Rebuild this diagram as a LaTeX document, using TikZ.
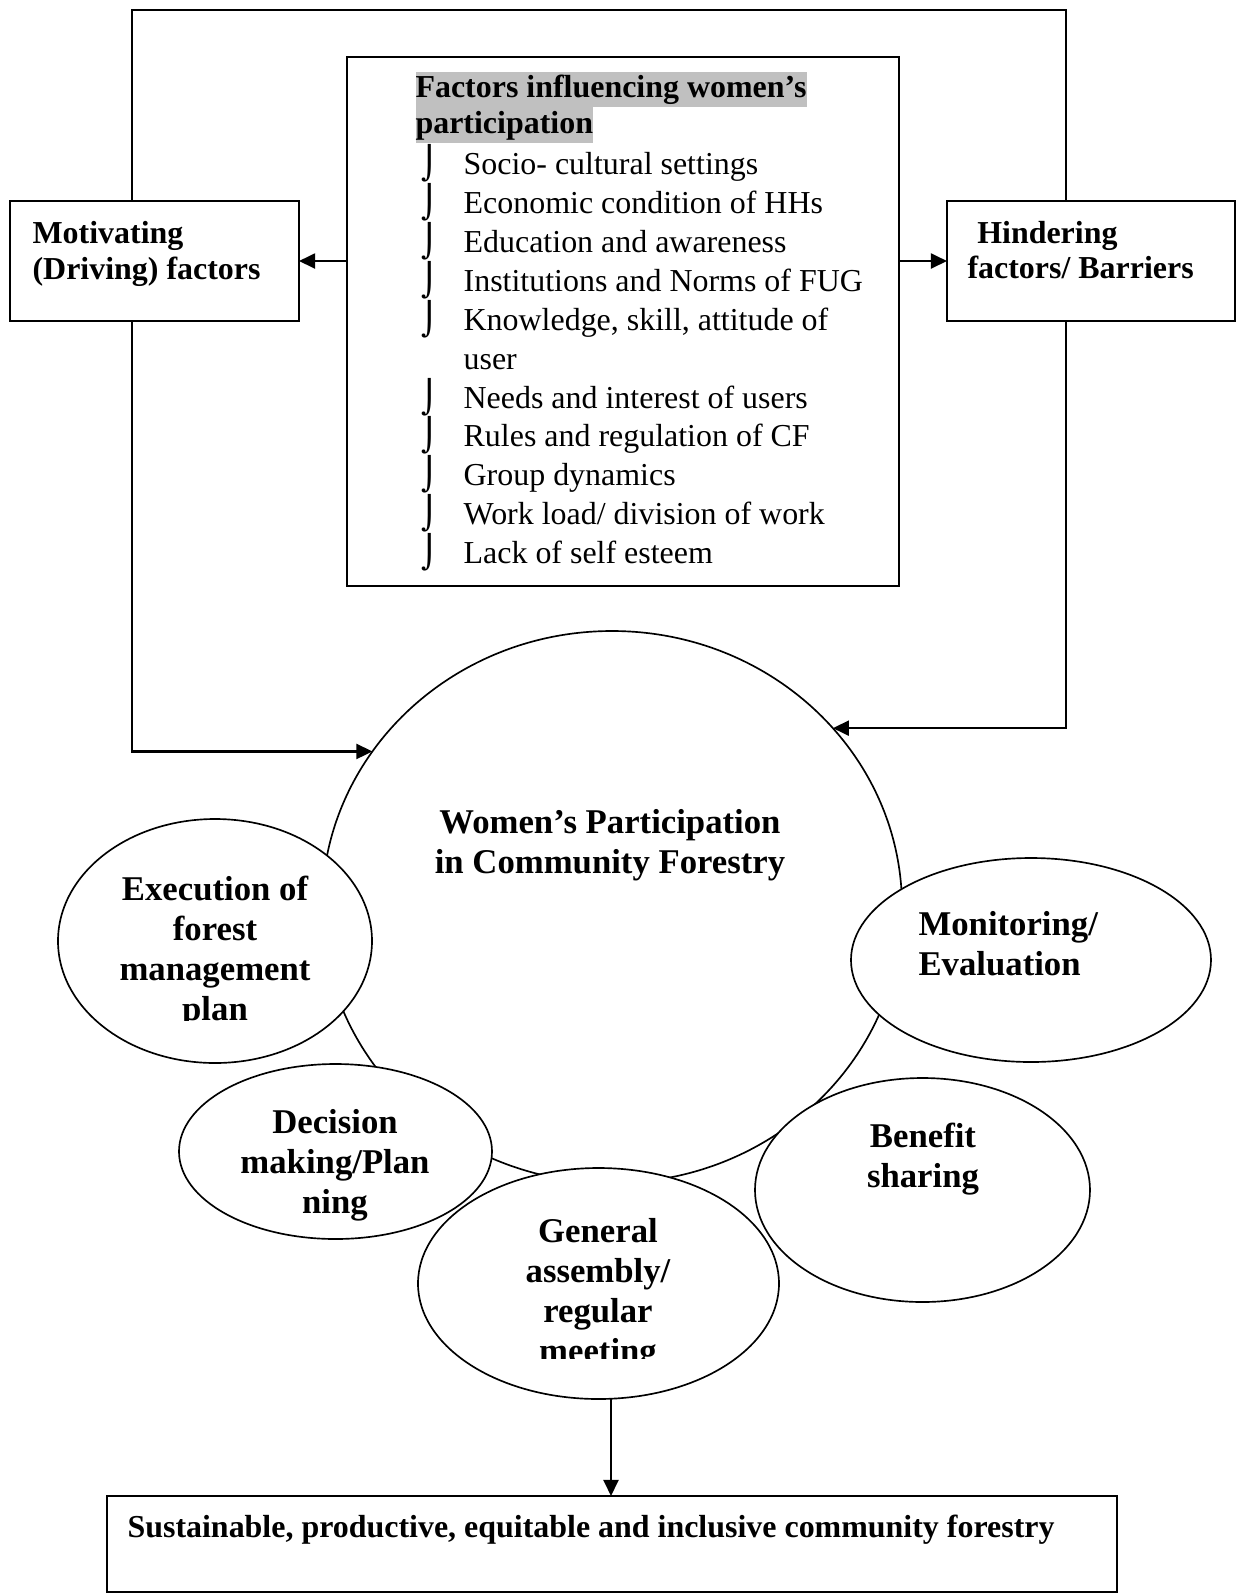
\documentclass[tikz,border=0pt]{standalone}
\usepackage{fontspec}
\setmainfont{Liberation Serif}
\newfontfamily\symfont{DejaVu Sans}
\usetikzlibrary{arrows.meta,shapes.geometric,positioning}
\definecolor{hlgray}{HTML}{C0C0C0}
\newcommand{\pxl}{0.36pt}
\newcommand{\hlite}[1]{{\setlength{\fboxsep}{0pt}\colorbox{hlgray}{\rule[-3.3pt]{0pt}{12.8pt}#1}}}
\newcommand{\itm}{\makebox[23pt][c]{\smash{\symfont ⌡}}\hspace{0.8pt}}

\begin{document}
\begin{tikzpicture}[x=0.36pt,y=-0.36pt]
    \tikzset{box/.style 2 args = {shape=rectangle,draw,line width=0.8pt,minimum width=#1*\pxl,minimum height=#2*\pxl,inner sep=0pt,outer sep=0pt}}
    \tikzset{oval/.style 2 args = {shape=ellipse,draw,fill=white,line width=0.6pt,minimum width=#1*\pxl,minimum height=#2*\pxl,inner sep=0pt,outer sep=0pt}}
    \tikzset{edge/.style = {-{Triangle[length=5.8pt,width=5.4pt]},line width=0.8pt}}
    \tikzset{link/.style = {line width=0.8pt}}
    \tikzset{txt/.style = {inner sep=0pt,align=left,font=\bfseries\fontsize{11.5}{12.8}\selectfont}}
    \tikzset{ctxt/.style = {inner sep=0pt,align=center,font=\bfseries\fontsize{12.5}{14.4}\selectfont}}
    \useasboundingbox (0,0) rectangle (1241,1595);
    % boxes
    \node[box={552}{529}] (fact) at (623,321.5) {};
    \node[box={289}{120}] (mot) at (154.5,261) {};
    \node[box={288}{120}] (hin) at (1091,261) {};
    \node[box={1010}{96}] (sust) at (612,1544) {};
    % ovals
    \node[oval={580}{552}] (wp) at (612,907) {};
    \node[oval={314}{244}] (exe) at (215,941) {};
    \node[oval={360}{204}] (mon) at (1031,960) {};
    \node[oval={313}{175}] (dec) at (335.5,1151.5) {};
    \node[oval={335}{224}] (ben) at (922.5,1190) {};
    \node[oval={361}{231}] (ga) at (598.5,1283.5) {};
    % texts
    \node[txt,anchor=north west] (facttitle) at (415,71) {\hlite{Factors influencing women's}\\\hlite{participation}};
    \node[inner sep=0pt,align=left,anchor=north west,font=\fontsize{11.5}{14}\selectfont] (factlist) at (397,152)
        {\itm Socio- cultural settings\\
         \itm Economic condition of HHs\\
         \itm Education and awareness\\
         \itm Institutions and Norms of FUG\\
         \itm Knowledge, skill, attitude of\\
         \hspace*{23.8pt}user\\
         \itm Needs and interest of users\\
         \itm Rules and regulation of CF\\
         \itm Group dynamics\\
         \itm Work load/ division of work\\
         \itm Lack of self esteem};
    \node[txt,anchor=west] (mottxt) at (32,254) {Motivating\\(Driving) factors};
    \node[txt,anchor=west] (hintxt) at (967,250) {\hspace*{3.5pt}Hindering\\factors/ Barriers};
    \node[ctxt,font=\bfseries\fontsize{12.5}{14.6}\selectfont] (wptxt) at (610,845) {Women's Participation\\in Community Forestry};
    \begin{scope}
        \clip (0,0) rectangle (1241,1020);
        \node[ctxt] (exetxt) at (215,952) {Execution of\\forest\\management\\plan};
    \end{scope}
    \node[ctxt,anchor=west,align=left] (montxt) at (918,944) {Monitoring/\\Evaluation};
    \node[ctxt] (dectxt) at (335,1165) {Decision\\making/Plan\\ning};
    \node[ctxt] (bentxt) at (923,1159) {Benefit\\sharing};
    \begin{scope}
        \clip (0,0) rectangle (1241,1358);
        \node[ctxt] (gatxt) at (598,1294) {General\\assembly/\\regular\\meeting};
    \end{scope}
    \node[txt,anchor=west] (susttxt) at (127,1530) {Sustainable, productive, equitable and inclusive community forestry};
    % connectors
    \coordinate (tl) at (132,10);
    \coordinate (tr) at (1066,10);
    \coordinate (ax) at (611,0);
    \draw[link] (mot.north -| tl) -- (tl) -- (tr) -- (hin.north -| tr);
    \draw[edge] (fact.west |- mot.east) -- (mot.east);
    \draw[edge] (fact.east |- hin.west) -- (hin.west);
    \draw[edge] (mot.south -| tl) |- (wp.147);
    \draw[edge] (hin.south -| tr) |- (wp.39);
    \draw[edge] (ga.south -| ax) -- (sust.north -| ax);
\end{tikzpicture}
\end{document}
